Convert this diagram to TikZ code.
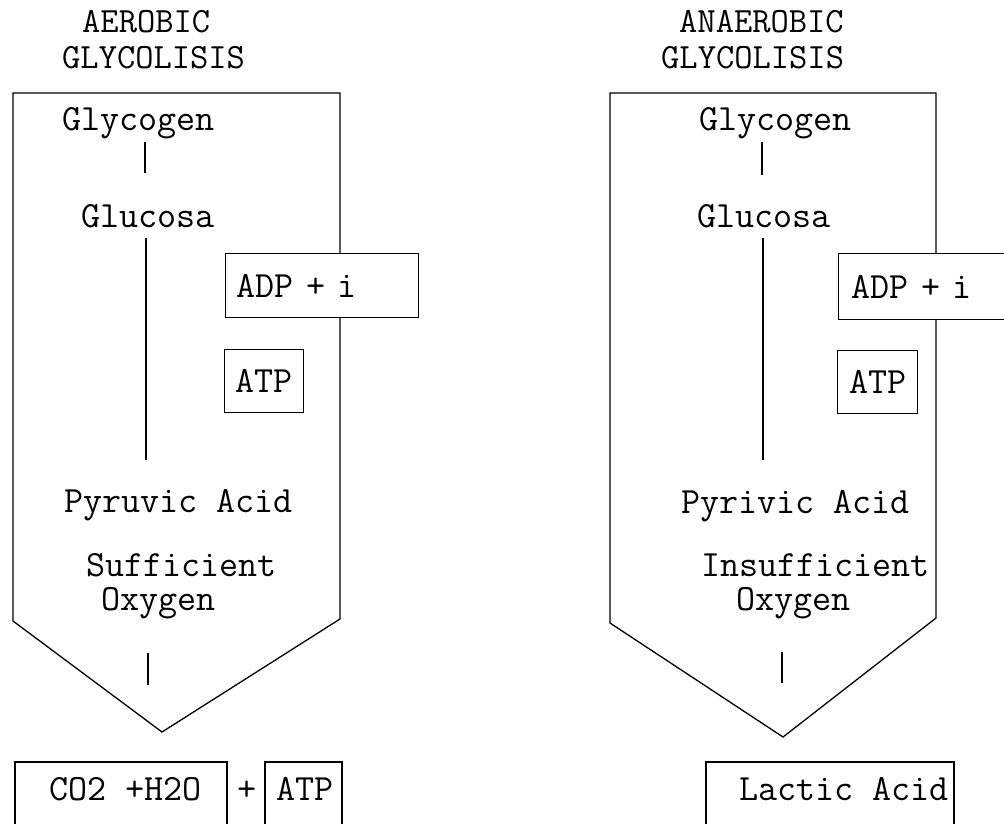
\documentclass[tikz,border=0pt]{standalone}
\usepackage{fontspec}
\begin{document}
\begin{tikzpicture}[x=1pt,y=-1pt,
  lbl/.style={anchor=base west,inner sep=0pt,font=\ttfamily\fontsize{37}{42}\selectfont},
  ttl/.style={anchor=base west,inner sep=0pt,font=\ttfamily\fontsize{35.5}{36}\selectfont},
  shape line/.style={draw=black,line width=1.3pt,line join=miter},
  conn/.style={draw=black,line width=1.3pt},
  boxnode/.style={draw=black,line width=1.3pt,fill=white,font=\ttfamily\fontsize{37}{42}\selectfont,anchor=north west}
]
\useasboundingbox (0,0) rectangle (1004,823);
\clip (0,0) rectangle (1004,823);

% ---------- left: aerobic ----------
\node[ttl] (ttlA1) at (82,32) {AEROBIC};
\node[ttl] (ttlA2) at (62,68) {GLYCOLISIS};
\draw[shape line] (13,93) -- (340,93) -- (340,619) -- (162,732) -- (13,621) -- cycle;
\node[lbl] (glyA) at (62,130) {Glycogen};
\node[lbl] (gluA) at (81,227) {Glucosa};
\node[lbl] (pyrA) at (64,512) {Pyruvic Acid};
\node[lbl] (sufA) at (86,576) {Sufficient};
\node[lbl] (oxyA) at (101,610) {Oxygen};
\coordinate (a1) at (145,142); \coordinate (a2) at (145,173);
\coordinate (a3) at (146,238); \coordinate (a4) at (146,460);
\coordinate (a5) at (148,653); \coordinate (a6) at (148,685);
\draw[conn] (a1) -- (a2);
\draw[conn] (a3) -- (a4);
\draw[conn] (a5) -- (a6);
\node[boxnode,text width=171pt,inner xsep=11pt,minimum height=64pt,align=left] (adpA) at (225,253) {ADP + i};
\node[boxnode,minimum width=79pt,minimum height=63pt,inner xsep=0pt] (atpA) at (224,349) {ATP};
% bottom
\draw[shape line] (15,830) -- (15,762) -- (227,762) -- (227,830);
\node[lbl] (co2) at (49,800) {CO2 +H2O};
\node[lbl] (plus) at (237,800) {+};
\draw[shape line] (265,830) -- (265,762) -- (342,762) -- (342,830);
\node[lbl] (atpB) at (276,800) {ATP};

% ---------- right: anaerobic ----------
\node[ttl] (ttlB1) at (679,32) {ANAEROBIC};
\node[ttl] (ttlB2) at (661,68) {GLYCOLISIS};
\draw[shape line] (610,93) -- (936,93) -- (936,618) -- (783,737) -- (610,623) -- cycle;
\node[lbl] (glyB) at (699,130) {Glycogen};
\node[lbl] (gluB) at (697,227) {Glucosa};
\node[lbl] (pyrB) at (681,513) {Pyrivic Acid};
\node[lbl] (insB) at (701,576) {Insufficient};
\node[lbl] (oxyB) at (736,610) {Oxygen};
\coordinate (b1) at (762,142); \coordinate (b2) at (762,175);
\coordinate (b3) at (763,238); \coordinate (b4) at (763,460);
\coordinate (b5) at (782,652); \coordinate (b6) at (782,683);
\draw[conn] (b1) -- (b2);
\draw[conn] (b3) -- (b4);
\draw[conn] (b5) -- (b6);
\node[boxnode,text width=171pt,inner xsep=13pt,minimum height=66pt,align=left] (adpB) at (838,253) {ADP + i};
\node[boxnode,minimum width=80pt,minimum height=63pt,inner xsep=0pt] (atpC) at (837,350) {ATP};
\draw[shape line] (706,830) -- (706,762) -- (954,762) -- (954,830);
\node[lbl] (lac) at (739,800) {Lactic Acid};
\end{tikzpicture}
\end{document}
